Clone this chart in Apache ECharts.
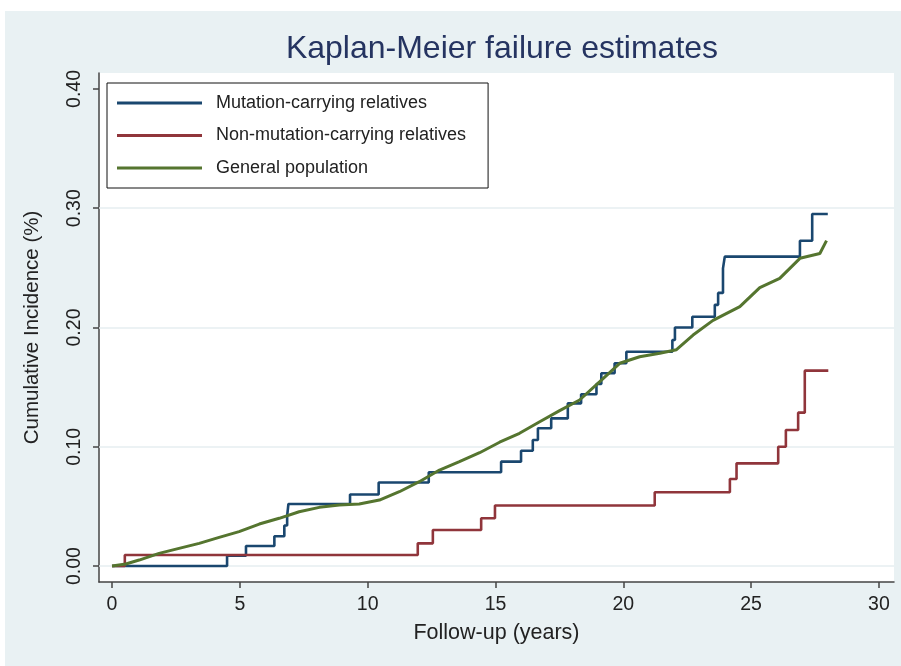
<!DOCTYPE html>
<html>
<head>
<meta charset="utf-8">
<script src="https://cdn.jsdelivr.net/npm/echarts@6/dist/echarts.min.js"></script>
<style>
html,body{margin:0;padding:0;background:#ffffff;}
#chart{width:901px;height:666px;}
</style>
</head>
<body>
<div id="chart"></div>
<script>
// ---- Data ----
const xTicks = [0, 5, 10, 15, 20, 25, 30];
const yTicks = [0, 0.1, 0.2, 0.3, 0.4];
const yGridLines = [0, 0.1, 0.2, 0.3];

const seriesNames = ['Mutation-carrying relatives', 'Non-mutation-carrying relatives', 'General population'];

// Mutation-carrying relatives (KM step curve)
const mutT = [0, 4.5, 5.24, 6.35, 6.74, 6.85, 6.9, 9.31, 10.43, 12.39, 15.22, 16.0, 16.46, 16.66, 17.18, 17.83, 18.35, 18.95, 19.14, 19.66, 20.12, 21.92, 22.02, 22.7, 23.58, 23.71, 23.9, 23.97, 26.91, 27.39, 28.0];
const mutV = [0, 0.0087, 0.0168, 0.025, 0.034, 0.042, 0.052, 0.060, 0.070, 0.0786, 0.0875, 0.0967, 0.1057, 0.1155, 0.1238, 0.1364, 0.144, 0.1526, 0.1616, 0.170, 0.1797, 0.1895, 0.200, 0.209, 0.219, 0.229, 0.2496, 0.2594, 0.2728, 0.2952, 0.2952];

// Non-mutation-carrying relatives (KM step curve)
const redT = [0, 0.5, 11.96, 12.55, 14.44, 14.98, 21.23, 24.17, 24.43, 26.06, 26.36, 26.84, 27.1, 28.02];
const redV = [0, 0.0092, 0.019, 0.0302, 0.040, 0.0508, 0.0618, 0.073, 0.0861, 0.100, 0.114, 0.1286, 0.1638, 0.1638];

// General population
const genT = [0, 0.54, 1.06, 1.84, 2.62, 3.41, 4.19, 4.97, 5.76, 6.54, 7.32, 8.11, 8.89, 9.67, 10.46, 11.24, 12.02, 12.81, 13.59, 14.38, 15.16, 15.94, 16.73, 17.51, 18.29, 19.08, 19.86, 20.64, 21.43, 22.08, 22.73, 23.51, 24.56, 25.34, 26.12, 26.91, 27.69, 27.95];
const genV = [0, 0.0017, 0.005, 0.0106, 0.0148, 0.019, 0.024, 0.0288, 0.0352, 0.040, 0.0455, 0.0492, 0.0512, 0.052, 0.0553, 0.0623, 0.0707, 0.0805, 0.0875, 0.095, 0.1038, 0.1113, 0.121, 0.1303, 0.1392, 0.1546, 0.170, 0.1755, 0.1784, 0.1814, 0.1937, 0.206, 0.2175, 0.2335, 0.2412, 0.258, 0.262, 0.2728];

const colors = ['#1a476f', '#90353b', '#55752f'];

function pairs(t, v) { return t.map((x, i) => [x, v[i]]); }

const FONT = 'Liberation Sans, Arial, sans-serif';

const chart = echarts.init(document.getElementById('chart'), null, {renderer: 'canvas'});
chart.setOption({
  animation: false,
  backgroundColor: '#e9f1f3',
  textStyle: {fontFamily: FONT},
  graphic: [
    {type: 'rect', left: 0, top: 0, shape: {width: 901, height: 11}, style: {fill: '#ffffff'}, silent: true},
    {type: 'rect', left: 0, top: 0, shape: {width: 5, height: 666}, style: {fill: '#ffffff'}, silent: true}
  ],
  title: {
    text: 'Kaplan-Meier failure estimates',
    left: 497, top: 28, textAlign: 'center',
    textStyle: {fontFamily: FONT, fontSize: 32, fontWeight: 'normal', color: '#253461'}
  },
  legend: {
    orient: 'vertical',
    left: 107, top: 83,
    padding: [10, 22, 10, 10],
    itemGap: 12.5,
    itemWidth: 85, itemHeight: 3,
    icon: 'rect',
    backgroundColor: '#ffffff',
    borderColor: '#111111', borderWidth: 1, borderRadius: 0,
    textStyle: {fontFamily: FONT, fontSize: 18, color: '#222222', lineHeight: 20, padding: [0, 0, 0, 9]},
    data: seriesNames
  },
  grid: {
    left: 99, right: 7, top: 73, bottom: 84,
    show: true, backgroundColor: '#ffffff', borderWidth: 0
  },
  xAxis: {
    type: 'value', min: -0.51, max: 30.59,
    name: 'Follow-up (years)', nameLocation: 'middle', nameGap: 40,
    nameTextStyle: {fontFamily: FONT, fontSize: 21.5, color: '#222222'},
    axisLine: {show: true, onZero: false, lineStyle: {color: '#444444', width: 1.5}},
    axisTick: {show: true, length: 6, customValues: xTicks, lineStyle: {color: '#444444', width: 1.5}},
    axisLabel: {customValues: xTicks, margin: 13, fontFamily: FONT, fontSize: 19.5, color: '#222222'},
    splitLine: {show: false}
  },
  yAxis: {
    type: 'value', min: -0.0134, max: 0.4134,
    name: 'Cumulative Incidence (%)', nameLocation: 'middle', nameGap: 56, nameRotate: 90,
    nameTextStyle: {fontFamily: FONT, fontSize: 20.5, color: '#222222'},
    axisLine: {show: true, onZero: false, lineStyle: {color: '#444444', width: 1.5}},
    axisTick: {show: true, length: 6, customValues: yTicks, lineStyle: {color: '#444444', width: 1.5}},
    axisLabel: {customValues: yTicks, rotate: 90, margin: 14, fontFamily: FONT, fontSize: 19.5, color: '#222222',
      formatter: v => v.toFixed(2)},
    splitLine: {show: false}
  },
  series: [
    {
      name: 'gridlines', type: 'line', data: [], silent: true,
      markLine: {
        silent: true, symbol: 'none', z: 1,
        label: {show: false},
        lineStyle: {color: '#e6eef0', width: 1.5, type: 'solid'},
        data: yGridLines.map(v => ({yAxis: v}))
      }
    },
    {
      name: seriesNames[0], type: 'line', step: 'end', showSymbol: false,
      data: pairs(mutT, mutV),
      lineStyle: {color: colors[0], width: 2.6}, itemStyle: {color: colors[0]}, z: 3
    },
    {
      name: seriesNames[1], type: 'line', step: 'end', showSymbol: false,
      data: pairs(redT, redV),
      lineStyle: {color: colors[1], width: 2.6}, itemStyle: {color: colors[1]}, z: 3
    },
    {
      name: seriesNames[2], type: 'line', showSymbol: false,
      data: pairs(genT, genV),
      lineStyle: {color: colors[2], width: 3}, itemStyle: {color: colors[2]}, z: 4
    }
  ]
});
</script>
</body>
</html>
